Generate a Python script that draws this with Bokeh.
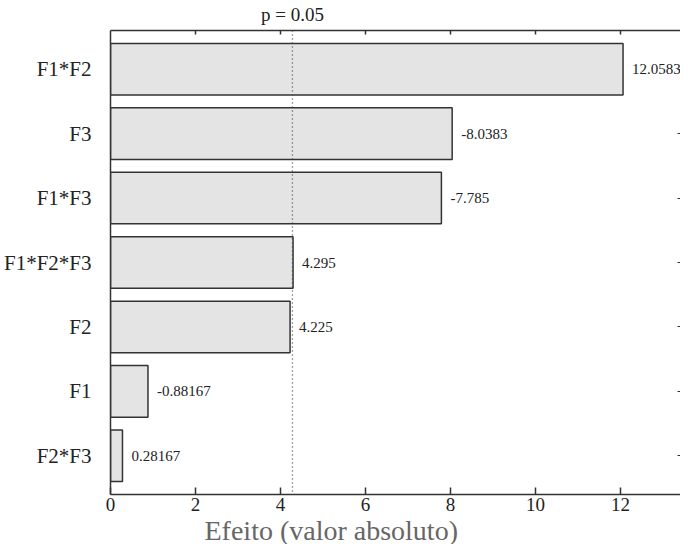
from bokeh.plotting import figure
from bokeh.models import (Range1d, FactorRange, FixedTicker, LinearAxis, CategoricalAxis,
                          Span, Title, ColumnDataSource)
from bokeh.core.properties import value
from bokeh.embed import file_html
from bokeh.resources import INLINE

factors = ["F1*F2", "F3", "F1*F3", "F1*F2*F3", "F2", "F1", "F2*F3"]
effects = [12.0583, -8.0383, -7.785, 4.295, 4.225, -0.88167, 0.28167]
effect_labels = ["12.0583", "-8.0383", "-7.785", "4.295", "4.225", "-0.88167", "0.28167"]
x_ticks = [0, 2, 4, 6, 8, 10, 12]
p_line = 4.28
p_label = "p = 0.05"
x_title = "Efeito (valor absoluto)"

FONT = "Liberation Serif"
AX = "#333333"

src = ColumnDataSource(dict(
    factor=factors,
    size=[abs(v) for v in effects],
    label=effect_labels,
))

p = figure(width=680, height=544,
           x_range=Range1d(0, 13.41),
           y_range=FactorRange(factors=list(reversed(factors)), range_padding=0.1,
                               range_padding_units="absolute"),
           output_backend="svg", toolbar_location=None,
           x_axis_location=None, y_axis_location=None)
p.min_border_left = 103
p.min_border_top = 25
p.min_border_right = 0
p.min_border_bottom = 0
p.outline_line_color = None
p.xgrid.visible = False
p.ygrid.visible = False
p.background_fill_color = "white"
p.border_fill_color = "white"

p.hbar(y="factor", right="size", left=0, height=0.8, source=src,
       fill_color="#e4e4e4", line_color=AX, line_width=1.5)

p.text(x="size", y="factor", text="label", source=src, x_offset=9,
       text_baseline="middle", text_align="left",
       text_font=value(FONT), text_font_size="15px", text_color="#222222")

p.add_layout(Span(location=p_line, dimension="height", line_color="#444444",
                  line_dash="1 3", line_width=1.3))

# left categorical axis
left = CategoricalAxis()
left.axis_line_color = AX
left.axis_line_width = 1.5
left.major_tick_line_color = None
left.major_label_text_font = FONT
left.major_label_text_font_size = "21px"
left.major_label_text_color = "#222222"
left.major_label_standoff = 13
p.add_layout(left, "left")

# right axis: inward ticks only
right = CategoricalAxis()
right.axis_line_color = None
right.major_tick_in = 3
right.major_tick_out = 0
right.major_tick_line_color = AX
right.major_label_text_font_size = "0px"
right.major_label_text_alpha = 0
right.major_label_standoff = 0
p.add_layout(right, "right")

# bottom axis
bottom = LinearAxis(ticker=FixedTicker(ticks=x_ticks))
bottom.axis_line_color = AX
bottom.axis_line_width = 1.5
bottom.major_tick_in = 7
bottom.major_tick_out = 0
bottom.major_tick_line_color = AX
bottom.major_tick_line_width = 1.5
bottom.minor_tick_line_color = None
bottom.major_label_text_font = FONT
bottom.major_label_text_font_size = "19px"
bottom.major_label_text_color = "#222222"
bottom.major_label_standoff = 3
p.add_layout(bottom, "below")

# top axis: inward ticks, single label at p line
top = LinearAxis(ticker=FixedTicker(ticks=[p_line], minor_ticks=x_ticks[1:]))
top.axis_line_color = AX
top.axis_line_width = 1.5
top.major_tick_line_color = None
top.major_tick_in = 0
top.major_tick_out = 0
top.minor_tick_in = 4
top.minor_tick_out = 0
top.minor_tick_line_color = AX
top.minor_tick_line_width = 1.5
top.major_label_overrides = {p_line: p_label}
top.major_label_text_font = FONT
top.major_label_text_font_size = "19px"
top.major_label_text_color = "#222222"
top.major_label_standoff = 6
p.add_layout(top, "above")

t = Title(text=x_title, align="left", offset=94, text_font=FONT,
          text_font_size="28px", text_color="#666666", text_font_style="normal",
          standoff=-2)
p.add_layout(t, "below")

open("out.html", "w").write(file_html(p, INLINE))
